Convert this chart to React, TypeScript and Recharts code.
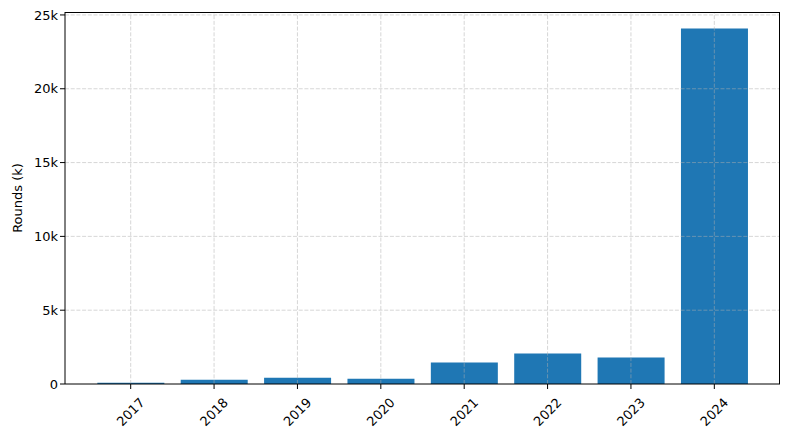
import { Bar, BarChart, ReferenceLine, XAxis, YAxis } from 'recharts'

const years = ['2017', '2018', '2019', '2020', '2021', '2022', '2023', '2024']
const rounds = [90, 290, 430, 360, 1450, 2060, 1790, 24080]
const yTicks = [0, 5000, 10000, 15000, 20000, 25000]

const data = years.map((year, i) => ({ year, rounds: rounds[i] }))

const font = '"DejaVu Sans", sans-serif'
const gridStyle = { stroke: '#b0b0b0', strokeOpacity: 0.5, strokeDasharray: '4 1.7' }

const fmtK = (v: number) => (v === 0 ? '0' : `${v / 1000}k`)

const YearTick = (props: any) => {
  const { x, y, payload } = props
  return (
    <g transform={`translate(${x},${y + 21}) rotate(-45)`}>
      <text textAnchor="middle" dominantBaseline="central" fontSize={13} fontFamily={font} fill="#000">
        {payload.value}
      </text>
    </g>
  )
}

const YLabel = (props: any) => {
  const { viewBox } = props
  const cy = viewBox.y + viewBox.height / 2
  return (
    <text
      transform={`translate(17,${cy}) rotate(-90)`}
      textAnchor="middle"
      dominantBaseline="central"
      fontSize={13}
      fontFamily={font}
      fill="#000"
    >
      Rounds (k)
    </text>
  )
}

export default function App() {
  return (
    <div style={{ position: 'absolute', left: 0, top: 0, width: 790, height: 439, background: '#fff' }}>
      <BarChart
        width={790}
        height={439}
        data={data}
        margin={{ top: 12, right: 10, bottom: 0, left: 0 }}
        barCategoryGap="10%"
      >
        <XAxis
          dataKey="year"
          height={55}
          padding={{ left: 24, right: 24 }}
          tick={<YearTick />}
          tickLine={{ stroke: '#000' }}
          tickSize={5}
          axisLine={{ stroke: '#000' }}
          interval={0}
        />
        <YAxis
          width={65}
          domain={[0, 25200]}
          ticks={yTicks}
          tickFormatter={fmtK}
          tick={{ fill: '#000', fontSize: 13, fontFamily: font }}
          tickLine={{ stroke: '#000' }}
          tickSize={5}
          axisLine={{ stroke: '#000' }}
          allowDataOverflow
          label={<YLabel />}
        />
        <Bar dataKey="rounds" fill="#1f77b4" isAnimationActive={false} />
        {/* grid drawn over the bars, like the original */}
        {yTicks.slice(1).map((t) => (
          <ReferenceLine key={`h${t}`} y={t} {...gridStyle} />
        ))}
        {years.map((yr) => (
          <ReferenceLine key={`v${yr}`} x={yr} {...gridStyle} />
        ))}
      </BarChart>
      {/* plot frame (top/right spines) */}
      <div
        style={{
          position: 'absolute',
          left: 65,
          top: 12,
          width: 715,
          height: 372,
          boxSizing: 'border-box',
          borderTop: '1px solid #000',
          borderRight: '1px solid #000',
          pointerEvents: 'none',
        }}
      />
    </div>
  )
}
